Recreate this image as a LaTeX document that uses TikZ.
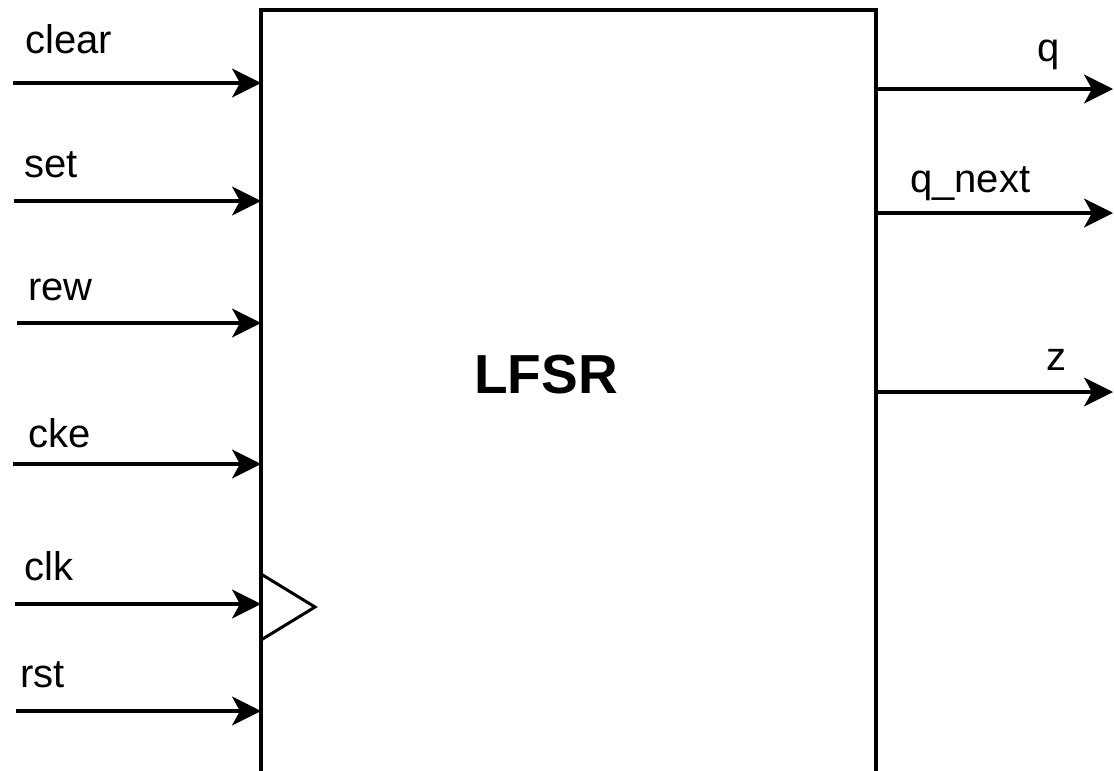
\documentclass[tikz,border=0pt]{standalone}
\usepackage{fontspec}
\setmainfont{Liberation Sans}
\usetikzlibrary{arrows.meta}
\begin{document}
\begin{tikzpicture}[x=1pt,y=-1pt,
  sig/.style={line width=3.2pt,-{Stealth[length=29pt,width=29pt,inset=8pt]}},
  lbl/.style={inner sep=0pt,anchor=base west,font=\fontsize{40}{42}\selectfont},
  blk/.style={draw,line width=3.2pt,inner sep=0pt,outer sep=0pt,anchor=north west,minimum width=615pt,minimum height=800pt}]
\useasboundingbox (0,0) rectangle (1114,771);
\clip (0,0) rectangle (1114,771);
\fill[white] (0,0) rectangle (1114,771);
\node[blk] (lfsr) at (261,10) {};
\node[font=\bfseries\fontsize{55}{58}\selectfont,inner sep=0pt] (title) at (546,375) {LFSR};
% clock triangle
\coordinate (tt) at (261,574);
\coordinate (tb) at (261,640);
\coordinate (ta) at (315,607);
\draw[line width=3pt,line join=miter] (tt) -- (ta) -- (tb);
% inputs
\coordinate (clear-s) at (13,83);
\coordinate (set-s) at (14,201);
\coordinate (rew-s) at (17,323);
\coordinate (cke-s) at (13,464);
\coordinate (clk-s) at (15,604);
\coordinate (rst-s) at (16,711);
\foreach \n in {clear,set,rew,cke,clk,rst}
  \draw[sig] (\n-s) -- (\n-s -| lfsr.west);
\node[lbl] (clear-l) at (25,53) {clear};
\node[lbl] (set-l) at (24,177) {set};
\node[lbl] (rew-l) at (28,300) {rew};
\node[lbl] (cke-l) at (28,447) {cke};
\node[lbl] (clk-l) at (24,580) {clk};
\node[lbl] (rst-l) at (20,687) {rst};
% outputs
\coordinate (q-e) at (1113,89);
\coordinate (qn-e) at (1113,213);
\coordinate (z-e) at (1113,392);
\foreach \n in {q,qn,z}
  \draw[sig] (\n-e -| lfsr.east) -- (\n-e);
\node[lbl] (q-l) at (1037,61) {q};
\node[lbl] (qn-l) at (910,192) {q\_next};
\node[lbl] (z-l) at (1046,370) {z};
\end{tikzpicture}
\end{document}
